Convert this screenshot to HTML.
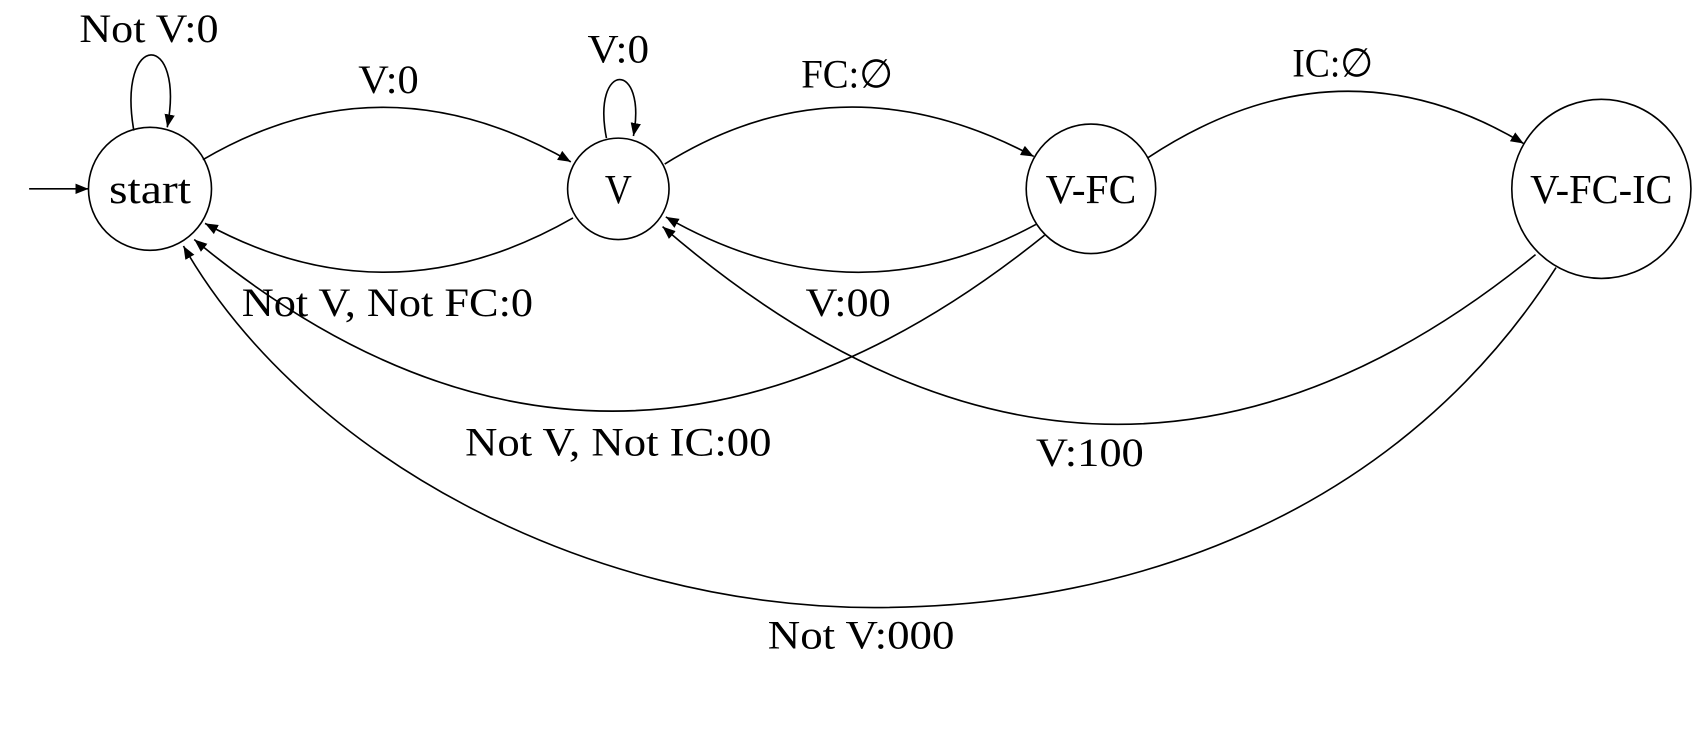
<!DOCTYPE html>
<html><head><meta charset="utf-8"><style>
html,body{margin:0;padding:0;background:#fff;}
svg{display:block;}
text{font-family:"Liberation Serif","DejaVu Serif",serif;font-size:37px;fill:#000;text-anchor:middle;}
</style></head><body>
<svg width="1692" height="730" viewBox="0 0 1568 676.5" xmlns="http://www.w3.org/2000/svg">
<defs><marker id="a" viewBox="0 0 10 10" refX="10" refY="5" markerWidth="12" markerHeight="12" markerUnits="userSpaceOnUse" orient="auto"><path d="M0,1 L10,5 L0,9 z" fill="#000"/></marker></defs>
<g fill="none" stroke="#000" stroke-width="1.5">
<circle cx="139" cy="175" r="57"/>
<circle cx="573" cy="175" r="47"/>
<circle cx="1011" cy="175" r="60"/>
<circle cx="1484" cy="175" r="83"/>
<g marker-end="url(#a)">
<path d="M27,175 L82,175"/>
<path d="M124,121 C108,28 172,28 155,118"/>
<path d="M188,148 Q355,50 529,150"/>
<path d="M562,128 C548,56 600,56 587,126"/>
<path d="M616,152 Q780,50 958,145"/>
<path d="M1064,146 Q1240,30 1412,133"/>
<path d="M531,202 Q360,300 190,207"/>
<path d="M960,208 Q790,300 617,201"/>
<path d="M968,218 Q566,542 180,222"/>
<path d="M1423,236 Q1022,563 614,210"/>
<path d="M1442,248 C1300,470 1060,563 810,563 C540,563 280,420 170,228"/>
</g></g>
<text x="139" y="188" textLength="76" lengthAdjust="spacingAndGlyphs" style="font-size:38px">start</text>
<text x="573" y="188" textLength="25" lengthAdjust="spacingAndGlyphs" style="font-size:38px">V</text>
<text x="1011" y="188" textLength="84" lengthAdjust="spacingAndGlyphs" style="font-size:38px">V-FC</text>
<text x="1484" y="188" textLength="132" lengthAdjust="spacingAndGlyphs" style="font-size:38px">V-FC-IC</text>
<text x="138" y="39" textLength="129" lengthAdjust="spacingAndGlyphs">Not V:0</text>
<text x="360" y="86" textLength="56" lengthAdjust="spacingAndGlyphs">V:0</text>
<text x="573" y="58" textLength="57" lengthAdjust="spacingAndGlyphs">V:0</text>
<text x="785" y="81" textLength="85" lengthAdjust="spacingAndGlyphs">FC:∅</text>
<text x="1235" y="71" textLength="75" lengthAdjust="spacingAndGlyphs">IC:∅</text>
<text x="359" y="293" textLength="270" lengthAdjust="spacingAndGlyphs">Not V, Not FC:0</text>
<text x="786" y="293" textLength="79" lengthAdjust="spacingAndGlyphs">V:00</text>
<text x="573" y="422" textLength="284" lengthAdjust="spacingAndGlyphs">Not V, Not IC:00</text>
<text x="1010" y="432" textLength="100" lengthAdjust="spacingAndGlyphs">V:100</text>
<text x="798" y="601" textLength="173" lengthAdjust="spacingAndGlyphs">Not V:000</text>
</svg>
</body></html>
